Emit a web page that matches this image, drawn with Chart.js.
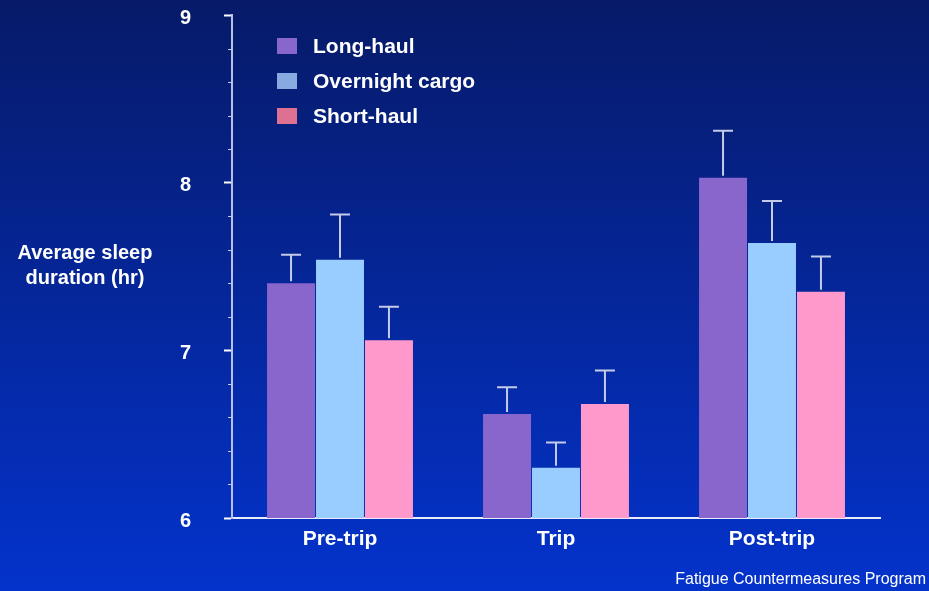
<!DOCTYPE html>
<html>
<head>
<meta charset="utf-8">
<script src="https://cdn.jsdelivr.net/npm/chart.js@4.4.1/dist/chart.umd.min.js"></script>
<style>
  html, body { margin: 0; padding: 0; }
  body {
    width: 929px; height: 591px; overflow: hidden; position: relative;
    background: linear-gradient(to bottom, #061a68 0%, #0433cc 100%);
    font-family: "Liberation Sans", Arial, sans-serif; color: #fff;
  }
  #wrap { position: absolute; left: 0; top: 0; width: 929px; height: 591px; }
  #ytitle {
    position: absolute; left: 0; width: 170px; top: 240px;
    text-align: center; font-weight: bold; font-size: 20px; line-height: 25px;
  }
  #legend { position: absolute; left: 277px; top: 28px; }
  .item { height: 35px; display: flex; align-items: center; font-weight: bold; font-size: 21px; }
  .box { width: 20px; height: 16px; margin-right: 16px; }
  #footer { position: absolute; right: 3px; top: 570px; font-size: 16px; }
</style>
</head>
<body>
<div id="wrap"><canvas id="sleepChart" width="929" height="591"></canvas></div>
<div id="ytitle">Average sleep<br>duration (hr)</div>
<div id="legend"></div>
<div id="footer">Fatigue Countermeasures Program</div>
<script>
// categories and series (hours)
const categories = ['Pre-trip', 'Trip', 'Post-trip'];
const seriesNames = ['Long-haul', 'Overnight cargo', 'Short-haul'];

const longHaul = [7.40, 6.62, 8.03];
const overnightCargo = [7.54, 6.30, 7.64];
const shortHaul = [7.06, 6.68, 7.35];

// upper error bar length (hr)
const longHaulErr = [0.17, 0.16, 0.28];
const overnightCargoErr = [0.27, 0.15, 0.25];
const shortHaulErr = [0.20, 0.20, 0.21];

const yTicks = [6, 7, 8, 9];

const barColors = ['#8866cc', '#99ccff', '#ff99cc'];
const legendColors = ['#8866cc', '#88aae0', '#de7092'];

const values = [longHaul, overnightCargo, shortHaul];
const errors = [longHaulErr, overnightCargoErr, shortHaulErr];

// html legend
const legendEl = document.getElementById('legend');
seriesNames.forEach((name, i) => {
  const row = document.createElement('div');
  row.className = 'item';
  row.innerHTML = '<span class="box" style="background:' + legendColors[i] + '"></span>' + name;
  legendEl.appendChild(row);
});

// error bars + minor ticks
const extras = {
  id: 'extras',
  afterDatasetsDraw(chart) {
    const ctx = chart.ctx;
    const y = chart.scales.y;
    ctx.save();
    ctx.strokeStyle = '#c4cbe8';
    ctx.lineWidth = 2;
    chart.data.datasets.forEach((ds, i) => {
      const meta = chart.getDatasetMeta(i);
      meta.data.forEach((bar, j) => {
        const top = y.getPixelForValue(ds.data[j] + errors[i][j]);
        ctx.beginPath();
        ctx.moveTo(bar.x, bar.y - 2);
        ctx.lineTo(bar.x, top);
        ctx.moveTo(bar.x - 10, top);
        ctx.lineTo(bar.x + 10, top);
        ctx.stroke();
      });
    });
    // minor ticks every 0.2
    ctx.strokeStyle = '#c4cbe8';
    ctx.lineWidth = 1;
    const left = chart.chartArea.left;
    for (let v = 6.2; v < 9; v += 0.2) {
      if (Math.abs(v - Math.round(v)) < 0.01) continue;
      const py = Math.round(y.getPixelForValue(v)) + 0.5;
      ctx.beginPath();
      ctx.moveTo(left - 4, py);
      ctx.lineTo(left, py);
      ctx.stroke();
    }
    ctx.restore();
  }
};

new Chart(document.getElementById('sleepChart'), {
  type: 'bar',
  data: {
    labels: categories,
    datasets: seriesNames.map((name, i) => ({
      label: name,
      data: values[i],
      backgroundColor: barColors[i],
      categoryPercentage: 0.68,
      barPercentage: 0.98
    }))
  },
  options: {
    responsive: false,
    animation: false,
    layout: { padding: { top: 15, right: 49, left: 0, bottom: 0 } },
    plugins: { legend: { display: false }, tooltip: { enabled: false } },
    scales: {
      x: {
        grid: { display: false, drawTicks: false },
        border: { color: '#e8ecf8', width: 2 },
        ticks: { color: '#fff', padding: 9, font: { family: 'Liberation Sans', size: 21, weight: 'bold' } },
        afterFit(scale) { scale.height = 73; }
      },
      y: {
        min: 6, max: 9,
        afterBuildTicks(scale) { scale.ticks = yTicks.map(v => ({ value: v })); },
        grid: { drawOnChartArea: false, tickLength: 8, tickColor: '#ffffff', tickWidth: 2 },
        border: { color: '#b8c0e8', width: 2 },
        ticks: { color: '#fff', padding: 33, labelOffset: 3, font: { family: 'Liberation Sans', size: 20, weight: 'bold' } },
        afterFit(scale) {
          scale.width = 232;
          scale.paddingTop = 10;
          scale.paddingBottom = 10;
        }
      }
    }
  },
  plugins: [extras]
});
</script>
</body>
</html>
